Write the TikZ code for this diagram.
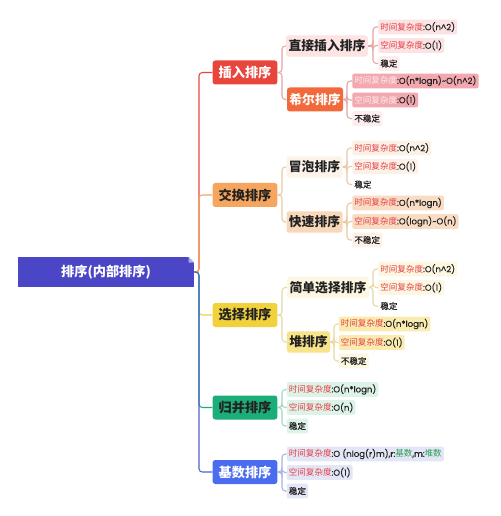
\documentclass[tikz,border=0pt]{standalone}
\usepackage{fontspec}
\setmainfont{Noto Sans CJK SC}
\newfontfamily\pop{Poppins}[FakeBold=0.35]
\newfontfamily\cjk{Noto Sans CJK SC}
\newfontfamily\cjkd{Noto Sans CJK SC}[FakeBold=0.5]
\usetikzlibrary{calc}
\definecolor{rootc}{HTML}{4A46C6}
\definecolor{txt}{HTML}{222222}
\definecolor{redt}{HTML}{E43F45}
\definecolor{greent}{HTML}{2E9A58}
\definecolor{cins}{HTML}{E8463C}
\definecolor{cshell}{HTML}{F26A3B}
\definecolor{cdirect}{HTML}{FBE4E2}
\definecolor{pkA}{HTML}{FBE3E3}
\definecolor{pkB}{HTML}{F3A8B0}
\definecolor{pkW}{HTML}{FDEDEF}
\definecolor{cexc}{HTML}{F6A55E}
\definecolor{cbub}{HTML}{FCF3EA}
\definecolor{cquick}{HTML}{F9D8BA}
\definecolor{orA}{HTML}{FCF1E6}
\definecolor{orB}{HTML}{F9DCC4}
\definecolor{csel}{HTML}{F2D23C}
\definecolor{csimp}{HTML}{FDF7E2}
\definecolor{cheap}{HTML}{F7E38A}
\definecolor{yeA}{HTML}{FDF6E0}
\definecolor{yeB}{HTML}{FAEBB0}
\definecolor{cmer}{HTML}{1BAE78}
\definecolor{grA}{HTML}{DDF3E8}
\definecolor{crad}{HTML}{4A6DF0}
\definecolor{blA}{HTML}{E3E7F5}
\definecolor{lnred}{HTML}{E8463C}
\definecolor{lnor}{HTML}{F4A460}
\definecolor{lnye}{HTML}{EED040}
\definecolor{lngr}{HTML}{1BAE78}
\definecolor{lnbl}{HTML}{5060D8}
\definecolor{subred}{HTML}{E9A3A3}
\definecolor{subor}{HTML}{E8C8A6}
\definecolor{subye}{HTML}{E6D9A0}
\definecolor{subgr}{HTML}{9ED9BE}
\definecolor{subbl}{HTML}{A8B4E0}
\newcommand{\rt}[1]{\textcolor{redt}{\cjk #1}}
\newcommand{\wt}[1]{\textcolor{pkW}{\cjk #1}}
\newcommand{\gt}[1]{\textcolor{greent}{\cjk #1}}
\begin{document}
\begin{tikzpicture}[x=0.75pt,y=-0.75pt,
  rootbox/.style={fill=rootc, text=white, font=\fontsize{9.9}{12}\selectfont\bfseries, minimum width=132pt, minimum height=22.5pt, inner sep=0pt},
  lone/.style={rounded corners=2pt, font=\fontsize{9.9}{12}\selectfont\bfseries, minimum height=18pt, minimum width=48.5pt, inner sep=0pt},
  ltwo/.style={rounded corners=2pt, font=\fontsize{9.6}{11}\selectfont\bfseries, minimum height=16pt, inner xsep=1.8pt, inner ysep=0pt, text=txt},
  leaf/.style={rounded corners=1.5pt, anchor=west, font=\fontsize{6.4}{7}\selectfont\pop, minimum height=11pt, inner xsep=1.6pt, inner ysep=0pt, text=txt},
  ln/.style={line width=0.8pt, rounded corners=2.5pt}]
\useasboundingbox (0,0) rectangle (500,516);
\fill[white] (0,0) rectangle (500,516);

% bracket x positions
\coordinate (tx) at (199,0);
\coordinate (bx) at (282,0);
\coordinate (bDirect) at (373,0);
\coordinate (bShell) at (347,0);
\coordinate (bSimple) at (373,0);
\coordinate (bHeap) at (334,0);

% root
\node[rootbox] (root) at (106,272) {排序(内部排序)};
\fill[white] (188.5,257) -- (194,257) -- (194,262.5) -- cycle;
\fill[rootc!45!white] (188.5,257) -- (194,262.5) -- (188.5,262.5) -- cycle;

% level 1
\node[lone, fill=cins, text=white] (ins) at (245,72.5) {插入排序};
\node[lone, fill=cexc, text=txt] (exc) at (245,195) {交换排序};
\node[lone, fill=csel, text=txt] (sel) at (245,315) {选择排序};
\node[lone, fill=cmer, text=txt] (mer) at (245,407.5) {归并排序};
\node[lone, fill=crad, text=white] (rad) at (245,472) {基数排序};

% level 2
\node[ltwo, fill=cdirect] (dir) at (327,46) {直接插入排序};
\node[ltwo, fill=cshell, text=white, minimum height=18pt] (she) at (315,99.5) {希尔排序};
\node[ltwo, fill=cbub] (bub) at (314.5,167) {冒泡排序};
\node[ltwo, fill=cquick] (qui) at (314.5,222) {快速排序};
\node[ltwo, fill=csimp] (sim) at (328,287.5) {简单选择排序};
\node[ltwo, fill=cheap] (hea) at (308.5,342) {堆排序};

% leaves: direct insertion
\node[leaf, fill=pkA] (d1) at (378,27) {\rt{时间复杂度}:O(n\textasciicircum 2)};
\node[leaf, fill=pkA] (d2) at (378,45.5) {\rt{空间复杂度}:O(1)};
\node[leaf, fill=pkW] (d3) at (378,63.5) {\cjkd 稳定};
% shell
\node[leaf, fill=pkB] (s1) at (352,81) {\wt{时间复杂度}:O(n*logn)\textasciitilde O(n\textasciicircum 2)};
\node[leaf, fill=pkB] (s2) at (352,100) {\wt{空间复杂度}:O(1)};
\node[leaf, fill=pkW] (s3) at (352,118.5) {\cjkd 不稳定};
% bubble
\node[leaf, fill=orA] (b1) at (352,148) {\rt{时间复杂度}:O(n\textasciicircum 2)};
\node[leaf, fill=orA] (b2) at (352,166.5) {\rt{空间复杂度}:O(1)};
\node[leaf, fill=white] (b3) at (352,184.5) {\cjkd 稳定};
% quick
\node[leaf, fill=orB] (q1) at (352,203) {\rt{时间复杂度}:O(n*logn)};
\node[leaf, fill=orB] (q2) at (352,221.5) {\rt{空间复杂度}:O(logn)\textasciitilde O(n)};
\node[leaf, fill=orA] (q3) at (352,240) {\cjkd 不稳定};
% simple selection
\node[leaf, fill=yeA] (p1) at (378,269) {\rt{时间复杂度}:O(n\textasciicircum 2)};
\node[leaf, fill=yeA] (p2) at (378,287.5) {\rt{空间复杂度}:O(1)};
\node[leaf, fill=white] (p3) at (378,306) {\cjkd 稳定};
% heap
\node[leaf, fill=yeB] (h1) at (338.5,324) {\rt{时间复杂度}:O(n*logn)};
\node[leaf, fill=yeB] (h2) at (338.5,342.5) {\rt{空间复杂度}:O(1)};
\node[leaf, fill=yeA] (h3) at (338.5,361) {\cjkd 不稳定};
% merge
\node[leaf, fill=grA] (m1) at (286.5,389.5) {\rt{时间复杂度}:O(n*logn)};
\node[leaf, fill=grA] (m2) at (286.5,407.5) {\rt{空间复杂度}:O(n)};
\node[leaf, fill=grA] (m3) at (286.5,426) {\cjkd 稳定};
% radix
\node[leaf, fill=blA] (r1) at (286.5,454) {\rt{时间复杂度}:O (nlog(r)m),r:\gt{基数},m:\gt{堆数}};
\node[leaf, fill=blA] (r2) at (286.5,472.5) {\rt{空间复杂度}:O(1)};
\node[leaf, fill=blA] (r3) at (286.5,491) {\cjkd 稳定};

% trunk connectors
\draw[ln, lnred] (root.east) -- (root.east -| tx) |- (ins.west);
\draw[ln, lnor] (root.east) -- (root.east -| tx) |- (exc.west);
\draw[ln, lnye] (root.east) -- (root.east -| tx) |- (sel.west);
\draw[ln, lngr] (root.east) -- (root.east -| tx) |- (mer.west);
\draw[ln, lnbl] (root.east) -- (root.east -| tx) |- (rad.west);

% level 2 connectors
\draw[ln, subred] (ins.east) -- (ins.east -| bx) |- (dir.west);
\draw[ln, subred] (ins.east) -- (ins.east -| bx) |- (she.west);
\draw[ln, subor] (exc.east) -- (exc.east -| bx) |- (bub.west);
\draw[ln, subor] (exc.east) -- (exc.east -| bx) |- (qui.west);
\draw[ln, subye] (sel.east) -- (sel.east -| bx) |- (sim.west);
\draw[ln, subye] (sel.east) -- (sel.east -| bx) |- (hea.west);

% leaf connectors
\foreach \p/\x/\a/\b/\c/\col in {dir/bDirect/d1/d2/d3/subred, she/bShell/s1/s2/s3/subred,
  bub/bShell/b1/b2/b3/subor, qui/bShell/q1/q2/q3/subor,
  sim/bSimple/p1/p2/p3/subye, hea/bHeap/h1/h2/h3/subye,
  mer/bx/m1/m2/m3/subgr, rad/bx/r1/r2/r3/subbl}{
  \draw[ln, \col] (\p.east) -- (\p.east -| \x) |- (\a.west);
  \draw[ln, \col] (\p.east) -- (\p.east -| \x) |- (\b.west);
  \draw[ln, \col] (\p.east) -- (\p.east -| \x) |- (\c.west);
}
\end{tikzpicture}
\end{document}
